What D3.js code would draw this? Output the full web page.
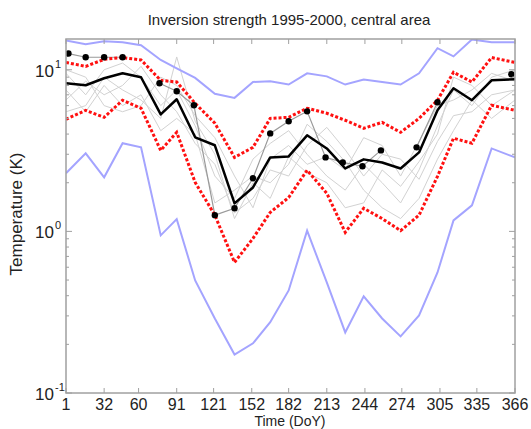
<!DOCTYPE html>
<html>
<head>
<meta charset="utf-8">
<script src="https://cdn.jsdelivr.net/npm/d3@7"></script>
<style>
  body { margin: 0; background: #fff; }
  text { font-family: "Liberation Sans", Arial, sans-serif; fill: #222; }
</style>
</head>
<body>
<svg id="chart" width="531" height="429"></svg>
<script>
// Semi-monthly sampling days (day of year)
const dayOfYear = [1, 17, 32, 47, 62, 78, 91, 106, 122, 138, 153, 167, 182, 197, 213, 228, 243, 258, 273, 288, 303, 316, 331, 347, 366];

// Envelope of all years: maximum and minimum inversion strength (K)
const maxStrength = [15.2, 14.4, 15.0, 14.8, 14.2, 11.5, 10.2, 8.9, 7.1, 6.7, 8.4, 8.5, 8.1, 9.5, 9.1, 8.1, 8.7, 8.4, 8.1, 9.5, 13.6, 12.1, 15.4, 14.8, 14.8];
const minStrength = [2.29, 3.04, 2.16, 3.51, 3.31, 0.945, 1.19, 0.497, 0.289, 0.173, 0.203, 0.274, 0.431, 1.01, 0.483, 0.237, 0.396, 0.289, 0.224, 0.302, 0.557, 1.17, 1.45, 3.26, 2.87];

// Upper and lower percentile bands (K)
const upperBand = [11.1, 10.5, 11.6, 11.9, 11.5, 8.6, 8.4, 6.2, 4.67, 2.87, 3.31, 5.0, 5.08, 5.78, 5.38, 4.87, 4.34, 4.73, 4.10, 5.0, 6.48, 9.65, 8.4, 11.9, 11.1];
const lowerBand = [4.94, 5.61, 5.08, 6.48, 5.78, 3.17, 4.10, 2.01, 1.26, 0.643, 0.905, 1.31, 1.62, 2.39, 1.72, 0.986, 1.39, 1.20, 1.01, 1.26, 2.19, 3.77, 3.51, 6.03, 5.61];

// Median over all years (K)
const medianStrength = [8.25, 8.02, 8.86, 9.51, 8.99, 5.30, 6.57, 3.82, 3.41, 1.49, 1.87, 2.87, 2.91, 3.93, 3.26, 2.45, 2.79, 2.67, 2.45, 3.08, 5.61, 7.68, 6.48, 8.61, 8.73];

// Individual years (K)
const year1995 = [9.5, 7.0, 10.0, 11.0, 9.0, 6.0, 7.5, 4.5, 2.2, 1.6, 2.8, 3.5, 4.2, 3.0, 2.2, 1.8, 2.6, 2.0, 1.5, 2.4, 4.5, 7.5, 6.0, 9.0, 10.0];
const year1996 = [6.5, 8.5, 7.0, 8.0, 10.5, 7.0, 5.5, 3.5, 2.6, 1.3, 1.6, 2.4, 2.2, 3.4, 4.4, 3.2, 2.2, 3.0, 2.8, 2.1, 3.6, 5.2, 5.5, 7.0, 7.5];
const year1997 = [7.5, 5.5, 8.0, 6.0, 7.0, 4.2, 5.0, 4.0, 1.5, 1.8, 2.2, 2.0, 2.6, 4.6, 3.6, 2.7, 1.8, 1.4, 1.2, 1.6, 2.8, 4.2, 6.5, 5.0, 6.5];
const year1998 = [10.0, 9.0, 6.0, 5.5, 6.0, 9.0, 8.0, 5.2, 3.8, 2.2, 1.4, 2.8, 3.4, 2.6, 2.9, 2.4, 3.8, 3.4, 2.2, 3.6, 6.0, 6.5, 7.5, 9.5, 8.5];
const year1999 = [5.5, 6.0, 9.0, 7.5, 6.5, 5.0, 12.0, 4.8, 3.0, 1.2, 2.0, 1.6, 2.9, 2.3, 2.0, 1.4, 1.5, 2.4, 1.9, 2.7, 4.0, 9.0, 8.0, 6.0, 7.5];

// Highlighted year with observations (null = no data)
const obsDays = [3, 17, 32, 47, null, 77, 91, 105, 122, 138, 153, 167, 182, 197, 212, 226, 242, 257, null, 286, 303, null, null, null, 363];
const obsStrength = [12.6, 11.95, 11.95, 11.95, null, 8.25, 7.36, 6.03, 1.26, 1.39, 2.13, 4.04, 4.80, 5.53, 2.87, 2.67, 2.53, 3.17, null, 3.31, 6.29, null, null, null, 9.38];

const xTicks = [1, 32, 60, 91, 121, 152, 182, 213, 244, 274, 305, 335, 366];
const yDecades = [-1, 0, 1];

const titleText = "Inversion strength 1995-2000, central area";
const xLabel = "Time (DoY)";
const yLabel = "Temperature (K)";

const svg = d3.select("#chart");
const plot = { left: 66, right: 515, top: 39, bottom: 393 };

const x = d3.scaleLinear().domain([1, 366]).range([plot.left, plot.right]);
const y = d3.scaleLog().domain([0.1, 15.5]).range([plot.bottom, plot.top]);

svg.append("defs").append("clipPath").attr("id", "plotClip")
  .append("rect")
  .attr("x", plot.left).attr("y", plot.top)
  .attr("width", plot.right - plot.left).attr("height", plot.bottom - plot.top);

const g = svg.append("g").attr("clip-path", "url(#plotClip)");

const line = d3.line()
  .defined(d => d[0] != null && d[1] != null)
  .x(d => x(d[0]))
  .y(d => y(d[1]));

const pairs = vals => dayOfYear.map((d, i) => [d, vals[i]]);

// Individual years in light grey
[year1995, year1996, year1997, year1998, year1999].forEach(vals => {
  g.append("path").datum(pairs(vals))
    .attr("fill", "none").attr("stroke", "#d2d2d2").attr("stroke-width", 1)
    .attr("d", line);
});

// Highlighted year
const obsPairs = obsDays.map((d, i) => [d, obsStrength[i]]);
g.append("path").datum(obsPairs)
  .attr("fill", "none").attr("stroke", "#9a9a9a").attr("stroke-width", 1.2)
  .attr("d", line);

// Min / max envelope
[maxStrength, minStrength].forEach(vals => {
  g.append("path").datum(pairs(vals))
    .attr("fill", "none").attr("stroke", "#a4a4ff").attr("stroke-width", 2)
    .attr("d", line);
});

// Percentile band, dotted red
[upperBand, lowerBand].forEach(vals => {
  g.append("path").datum(pairs(vals))
    .attr("fill", "none").attr("stroke", "#ff1010").attr("stroke-width", 3)
    .attr("stroke-dasharray", "3,2")
    .attr("d", line);
});

// Median
g.append("path").datum(pairs(medianStrength))
  .attr("fill", "none").attr("stroke", "#000").attr("stroke-width", 2.5)
  .attr("stroke-linejoin", "round")
  .attr("d", line);

// Observation markers
g.selectAll("circle.obs").data(obsPairs.filter(d => d[0] != null && d[1] != null))
  .join("circle").attr("class", "obs")
  .attr("cx", d => x(d[0])).attr("cy", d => y(d[1]))
  .attr("r", 3.2).attr("fill", "#000");

// Frame
const frameColor = "#a0a0a0";
svg.append("rect")
  .attr("x", plot.left).attr("y", plot.top)
  .attr("width", plot.right - plot.left).attr("height", plot.bottom - plot.top)
  .attr("fill", "none").attr("stroke", frameColor).attr("stroke-width", 1.5);

// X ticks (inward, top and bottom)
const axes = svg.append("g").attr("stroke", frameColor).attr("stroke-width", 1);
xTicks.forEach(t => {
  axes.append("line").attr("x1", x(t)).attr("x2", x(t))
    .attr("y1", plot.bottom).attr("y2", plot.bottom - 5);
  axes.append("line").attr("x1", x(t)).attr("x2", x(t))
    .attr("y1", plot.top).attr("y2", plot.top + 5);
});

// Y ticks: decades and minor log ticks (inward, left and right)
const yMajor = yDecades.map(e => Math.pow(10, e));
const yMinor = [];
yDecades.forEach(e => { for (let k = 2; k <= 9; k++) { const v = k * Math.pow(10, e); if (v <= 15.5) yMinor.push(v); } });
yMajor.forEach(v => {
  axes.append("line").attr("x1", plot.left).attr("x2", plot.left + 6).attr("y1", y(v)).attr("y2", y(v));
  axes.append("line").attr("x1", plot.right).attr("x2", plot.right - 6).attr("y1", y(v)).attr("y2", y(v));
});
yMinor.forEach(v => {
  axes.append("line").attr("x1", plot.left).attr("x2", plot.left + 3).attr("y1", y(v)).attr("y2", y(v));
  axes.append("line").attr("x1", plot.right).attr("x2", plot.right - 3).attr("y1", y(v)).attr("y2", y(v));
});

// X tick labels
svg.append("g").selectAll("text").data(xTicks).join("text")
  .attr("x", d => x(d)).attr("y", 409.5)
  .attr("text-anchor", "middle").attr("font-size", 16)
  .text(d => d);

// Y tick labels as powers of ten
yDecades.forEach(e => {
  const ty = y(Math.pow(10, e));
  svg.append("text").attr("x", 54).attr("y", ty + 7)
    .attr("text-anchor", "end").attr("font-size", 17).text("10");
  svg.append("text").attr("x", 55).attr("y", ty - 2)
    .attr("font-size", 11).text(e);
});

// Title and axis labels
svg.append("text").attr("x", 289).attr("y", 25)
  .attr("text-anchor", "middle").attr("font-size", 15).text(titleText);
svg.append("text").attr("x", 290).attr("y", 426)
  .attr("text-anchor", "middle").attr("font-size", 14).text(xLabel);
svg.append("text")
  .attr("transform", "translate(22,214) rotate(-90)")
  .attr("text-anchor", "middle").attr("font-size", 17).text(yLabel);
</script>
</body>
</html>
